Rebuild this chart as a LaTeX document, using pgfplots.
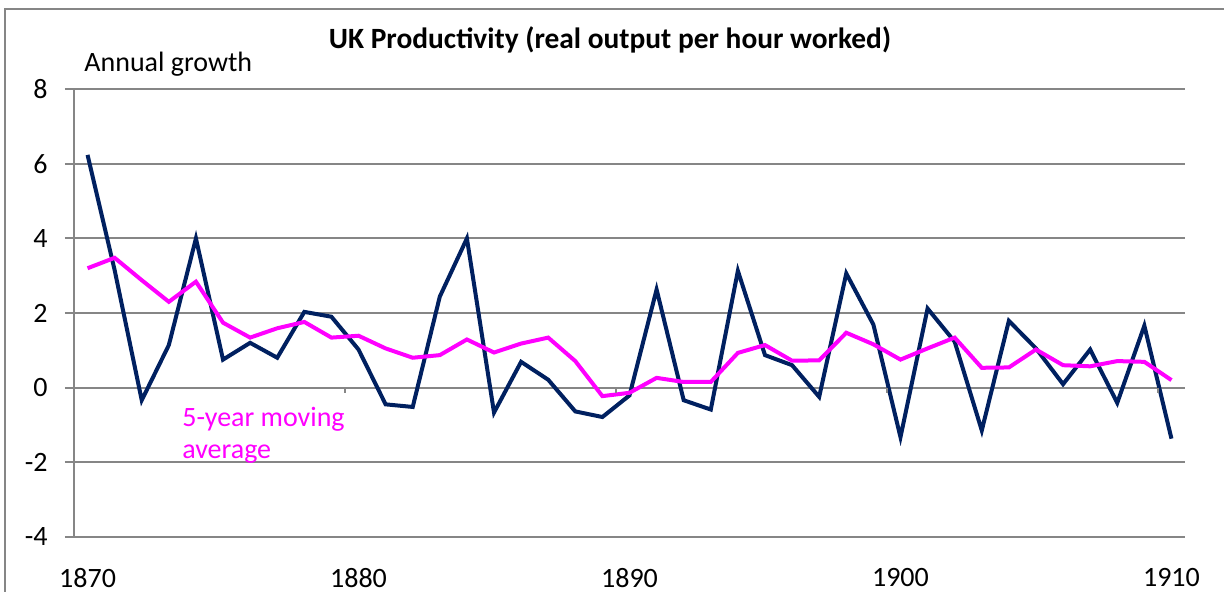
\documentclass[border=0pt]{standalone}
\usepackage{pgfplots}
\pgfplotsset{compat=1.18}
\usepackage{fontspec}
\setmainfont{Carlito}
\definecolor{navy}{RGB}{0,32,96}
\definecolor{mag}{RGB}{255,0,255}
\definecolor{gridgray}{RGB}{134,134,134}
\newcommand{\chartfont}{\fontsize{14bp}{16bp}\selectfont}
% x is years since 1870
\begin{document}
\begin{tikzpicture}
\path[use as bounding box] (-37bp,-27.65bp) rectangle (575bp,268.35bp);
\begin{axis}[
  at={(0,0)}, anchor=south west,
  scale only axis,
  width=555.5bp, height=223.7bp,
  xmin=-0.5, xmax=40.5,
  ymin=-4, ymax=8,
  xtick={0,10,20,30,40},
  xticklabels={1870,1880,1890,1900,1910},
  ytick={-4,-2,0,2,4,6,8},
  yticklabels={-4,-2,0,2,4,6,8},
  axis x line*=bottom,
  axis y line*=left,
  x axis line style={draw=none},
  y axis line style={draw=gridgray, line width=1bp},
  xtick style={draw=none},
  ytick style={draw=gridgray, line width=1bp},
  tick align=outside,
  major tick length=4.5bp,
  ymajorgrids,
  major grid style={draw=gridgray, line width=1bp},
  tick label style={font=\chartfont, text=black},
  xticklabel style={inner sep=0pt, anchor=north, yshift=-11bp},
  yticklabel style={inner sep=0pt, anchor=east, xshift=-8.5bp},
  clip=false,
]
\addplot[navy, line width=2bp, mark=none] coordinates {
(0,6.24) (1,3.15) (2,-0.34) (3,1.14) (4,4.00)
(5,0.75) (6,1.20) (7,0.80) (8,2.03) (9,1.90)
(10,1.02) (11,-0.45) (12,-0.52) (13,2.44) (14,4.00)
(15,-0.67) (16,0.69) (17,0.21) (18,-0.64) (19,-0.79)
(20,-0.21) (21,2.63) (22,-0.34) (23,-0.59) (24,3.13)
(25,0.87) (26,0.60) (27,-0.25) (28,3.06) (29,1.69)
(30,-1.33) (31,2.12) (32,1.23) (33,-1.15) (34,1.79)
(35,1.05) (36,0.09) (37,1.02) (38,-0.41) (39,1.66)
(40,-1.37)
};
\addplot[mag, line width=2bp, mark=none] coordinates {
(0,3.20) (1,3.48) (2,2.88) (3,2.30) (4,2.84)
(5,1.74) (6,1.34) (7,1.59) (8,1.76) (9,1.34)
(10,1.39) (11,1.05) (12,0.80) (13,0.87) (14,1.29)
(15,0.94) (16,1.18) (17,1.34) (18,0.71) (19,-0.23)
(20,-0.14) (21,0.26) (22,0.15) (23,0.15) (24,0.93)
(25,1.14) (26,0.72) (27,0.73) (28,1.47) (29,1.16)
(30,0.75) (31,1.05) (32,1.34) (33,0.53) (34,0.54)
(35,1.02) (36,0.60) (37,0.57) (38,0.71) (39,0.69)
(40,0.20)
};
\draw[gridgray, line width=1bp] (axis cs:9.5,0) -- (axis cs:9.5,-0.14);
\draw[gridgray, line width=1bp] (axis cs:19.5,0) -- (axis cs:19.5,-0.14);
\draw[gridgray, line width=1bp] (axis cs:29.5,0) -- (axis cs:29.5,-0.14);
\draw[gridgray, line width=1bp] (axis cs:39.5,0) -- (axis cs:39.5,-0.14);
\draw[gridgray, line width=1bp] (axis cs:-0.5,0) -- (axis cs:-0.5,-0.14);
\end{axis}
% outer chart frame
\draw[gridgray, line width=1bp] (-34.5bp,-40bp) -- (-34.5bp,263.85bp) -- (620bp,263.85bp);
% title and labels
\node[anchor=base, inner sep=0pt, font=\fontsize{14.7bp}{17bp}\selectfont\bfseries] at (268bp,243.85bp) {UK Productivity (real output per hour worked)};
\node[anchor=base west, inner sep=0pt, font=\chartfont] at (5bp,232.35bp) {Annual growth};
\node[anchor=base west, inner sep=0pt, font=\chartfont, text=mag] at (54bp,54.85bp) {5-year moving};
\node[anchor=base west, inner sep=0pt, font=\chartfont, text=mag] at (54bp,39.35bp) {average};
\end{tikzpicture}
\end{document}
